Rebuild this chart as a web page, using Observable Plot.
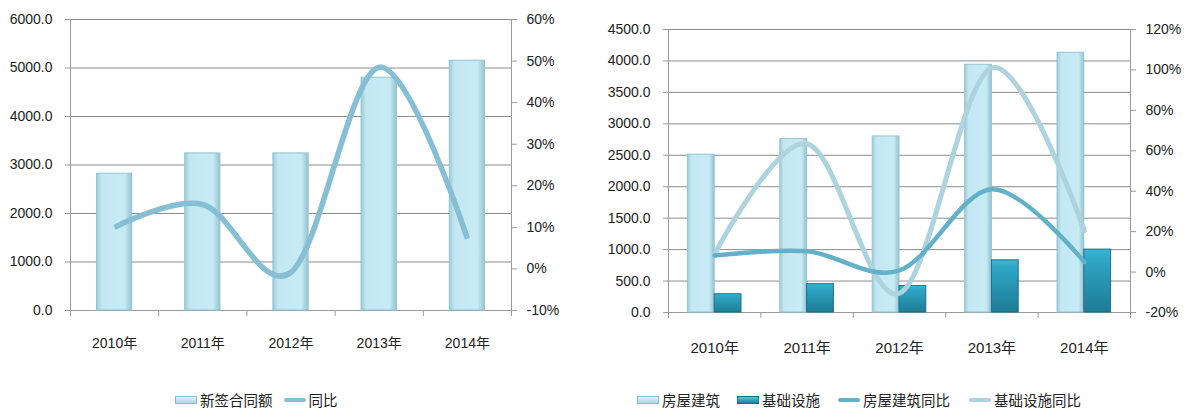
<!DOCTYPE html>
<html>
<head>
<meta charset="utf-8">
<script src="https://cdn.jsdelivr.net/npm/d3@7"></script>
<script src="https://cdn.jsdelivr.net/npm/@observablehq/plot@0.6"></script>
<style>
  html, body { margin: 0; padding: 0; background: #fff; }
  #wrap { position: relative; width: 1187px; height: 410px; overflow: hidden; background: #fff;
          font-family: "Liberation Sans", "Noto Sans CJK SC", sans-serif; color: #222; }
  .panel { position: absolute; top: 0; }
  .legend { position: absolute; display: flex; align-items: center; height: 18px; line-height: 18px; font-size: 14.5px; font-family: "Noto Sans CJK SC", sans-serif; color: #222; white-space: nowrap; }
  .sw-bar-light { width: 22px; height: 8px; background: linear-gradient(#e4f5fa, #a9d6e2); border: 1px solid #8fbfcc; box-sizing: border-box; margin-right: 3px; }
  .sw-bar-dark { width: 22px; height: 8px; background: linear-gradient(#5cc3dc, #1f7d97); border: 1px solid #1b6f86; box-sizing: border-box; margin-right: 3px; }
  .sw-line { width: 22px; height: 4px; margin-right: 3px; border-radius: 2px; }
</style>
</head>
<body>
<svg width="0" height="0" style="position:absolute">
  <defs>
    <linearGradient id="gLight" x1="0" x2="1" y1="0" y2="0">
      <stop offset="0" stop-color="#9ccbd7"/>
      <stop offset="0.15" stop-color="#c3e8f3"/>
      <stop offset="0.8" stop-color="#c6ebf5"/>
      <stop offset="1" stop-color="#94c2cf"/>
    </linearGradient>
    <linearGradient id="gDark" x1="0" x2="0" y1="0" y2="1">
      <stop offset="0" stop-color="#3cb6d4"/>
      <stop offset="0.15" stop-color="#2ea7c5"/>
      <stop offset="1" stop-color="#1f7b95"/>
    </linearGradient>
  </defs>
</svg>
<div id="wrap">
  <div class="panel" id="left" style="left:0px"></div>
  <div class="panel" id="right" style="left:590px"></div>
  <div class="legend" style="left:175px; top:391px;">
    <div class="sw-bar-light"></div><span>新签合同额</span>
    <div class="sw-line" style="background:#86bfd3; margin-left:11px"></div><span>同比</span>
  </div>
  <div class="legend" style="left:637px; top:391px;">
    <div class="sw-bar-light"></div><span>房屋建筑</span>
    <div class="sw-bar-dark" style="margin-left:17px"></div><span>基础设施</span>
    <div class="sw-line" style="background:#63b0c9; margin-left:18px"></div><span>房屋建筑同比</span>
    <div class="sw-line" style="background:#acd3de; margin-left:19px"></div><span>基础设施同比</span>
  </div>
</div>
<script>
// ---- data ----
const years = ["2010年", "2011年", "2012年", "2013年", "2014年"];
const newContracts = [2820, 3240, 3240, 4800, 5150];      // 新签合同额
const newYoY = [10, 15.5, -0.8, 48.5, 7.3];                // 同比 (%)
const housing = [2510, 2760, 2800, 3940, 4130];            // 房屋建筑
const infra = [290, 450, 420, 830, 1000];                  // 基础设施
const housingYoY = [8.2, 10.3, 0.8, 41, 5];                // 房屋建筑同比 (%)
const infraYoY = [9, 63.5, -10.5, 101, 20.5];              // 基础设施同比 (%)
const leftTicks = [0, 1000, 2000, 3000, 4000, 5000, 6000];
const leftPctTicks = [-10, 0, 10, 20, 30, 40, 50, 60];
const rightTicks = [0, 500, 1000, 1500, 2000, 2500, 3000, 3500, 4000, 4500];
const rightPctTicks = [-20, 0, 20, 40, 60, 80, 100, 120];

const gridColor = "#8c8c8c";
const axisColor = "#9a9a9a";
const textColor = "#222";

// ---- left chart ----
const pL = p => (p + 10) / 70 * 6000;
const pLinv = v => v / 6000 * 70 - 10;
const leftBars = years.map((y, i) => ({i, v: newContracts[i]}));
const leftLine = years.map((y, i) => ({x: i + 0.5, y: pL(newYoY[i])}));

const left = Plot.plot({
  width: 590, height: 362,
  marginLeft: 70, marginRight: 79, marginTop: 19, marginBottom: 52,
  style: {fontFamily: "Liberation Sans, Noto Sans CJK SC, sans-serif", fontSize: "14px", color: textColor, background: "transparent"},
  x: {domain: [0, 5]},
  y: {domain: [0, 6000]},
  marks: [
    Plot.gridY(leftTicks, {stroke: gridColor, strokeOpacity: 1}),
    Plot.axisY(leftTicks, {anchor: "left", label: null, tickSize: 5, tickPadding: 13, stroke: axisColor, tickFormat: d => d.toFixed(1), fill: textColor}),
    Plot.axisY(leftPctTicks.map(pL), {anchor: "right", label: null, tickSize: 5, tickPadding: 10, stroke: axisColor, tickFormat: v => Math.round(pLinv(v)) + "%", fill: textColor}),
    Plot.axisX([0, 1, 2, 3, 4, 5], {label: null, tickSize: 6, tickFormat: () => "", stroke: axisColor}),
    Plot.axisX([0.5, 1.5, 2.5, 3.5, 4.5], {label: null, tickSize: 0, tickPadding: 28, tickFormat: v => years[Math.round(v - 0.5)], fontSize: 14, fill: textColor}),
    Plot.ruleX([0, 5], {stroke: axisColor}),
    Plot.ruleY([0], {stroke: axisColor}),
    Plot.rectY(leftBars, {x1: d => d.i + 0.3, x2: d => d.i + 0.7, y1: 0, y2: "v", fill: "url(#gLight)", stroke: "#96c4d0", strokeWidth: 1}),
    Plot.line(leftLine, {x: "x", y: "y", stroke: "#86bfd3", strokeWidth: 5.5, curve: "cardinal", strokeLinecap: "butt"})
  ]
});
document.getElementById("left").appendChild(left);

// ---- right chart ----
const pR = p => (p + 20) / 140 * 4500;
const pRinv = v => v / 4500 * 140 - 20;
const rightBars = years.map((y, i) => ({i, h: housing[i], f: infra[i]}));
const hLine = years.map((y, i) => ({x: i + 0.5, y: pR(housingYoY[i])}));
const fLine = years.map((y, i) => ({x: i + 0.5, y: pR(infraYoY[i])}));

const right = Plot.plot({
  width: 597, height: 365,
  marginLeft: 78, marginRight: 57, marginTop: 29, marginBottom: 53,
  style: {fontFamily: "Liberation Sans, Noto Sans CJK SC, sans-serif", fontSize: "14px", color: textColor, background: "transparent"},
  x: {domain: [0, 5]},
  y: {domain: [0, 4500]},
  marks: [
    Plot.gridY(rightTicks, {stroke: gridColor, strokeOpacity: 1}),
    Plot.axisY(rightTicks, {anchor: "left", label: null, tickSize: 5, tickPadding: 13, stroke: axisColor, tickFormat: d => d.toFixed(1), fill: textColor}),
    Plot.axisY(rightPctTicks.map(pR), {anchor: "right", label: null, tickSize: 5, tickPadding: 10, stroke: axisColor, tickFormat: v => Math.round(pRinv(v)) + "%", fill: textColor}),
    Plot.axisX([0, 1, 2, 3, 4, 5], {label: null, tickSize: 6, tickFormat: () => "", stroke: axisColor}),
    Plot.axisX([0.5, 1.5, 2.5, 3.5, 4.5], {label: null, tickSize: 0, tickPadding: 30, tickFormat: v => years[Math.round(v - 0.5)], fontSize: 15, fill: textColor}),
    Plot.ruleX([0, 5], {stroke: axisColor}),
    Plot.ruleY([0], {stroke: axisColor}),
    Plot.rectY(rightBars, {x1: d => d.i + 0.21, x2: d => d.i + 0.5, y1: 0, y2: "h", fill: "url(#gLight)", stroke: "#96c4d0", strokeWidth: 1}),
    Plot.rectY(rightBars, {x1: d => d.i + 0.5, x2: d => d.i + 0.79, y1: 0, y2: "f", fill: "url(#gDark)", stroke: "#1d7089", strokeWidth: 1}),
    Plot.line(fLine, {x: "x", y: "y", stroke: "#acd3de", strokeWidth: 5, curve: "cardinal"}),
    Plot.line(hLine, {x: "x", y: "y", stroke: "#63b0c9", strokeWidth: 4.5, curve: "cardinal"})
  ]
});
document.getElementById("right").appendChild(right);
</script>
</body>
</html>
